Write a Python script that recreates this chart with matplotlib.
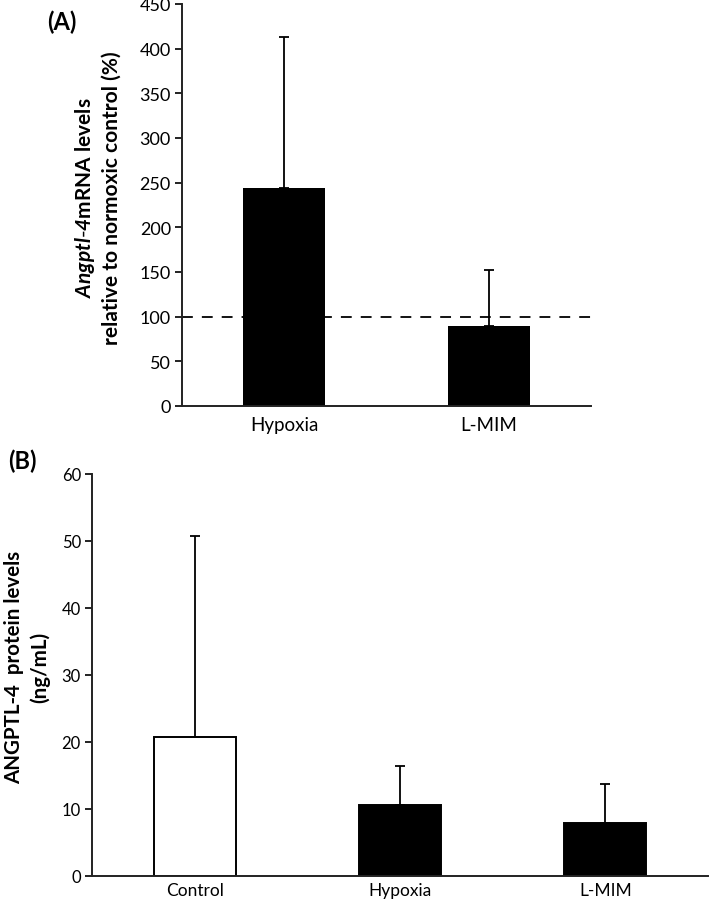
import matplotlib.pyplot as plt

plt.rcParams['font.family'] = ['Lato', 'DejaVu Sans']
plt.rcParams['mathtext.fontset'] = 'custom'
plt.rcParams['mathtext.bfit'] = 'Lato:italic:bold'
plt.rcParams['mathtext.it'] = 'Lato:italic'
plt.rcParams['mathtext.bf'] = 'Lato:bold'
plt.rcParams['mathtext.rm'] = 'Lato'

# panel A data
a_groups = ['Hypoxia', 'L-MIM']
a_means = [244, 89.5]
a_errs = [169, 62.5]
a_ref = 100

# panel B data
b_groups = ['Control', 'Hypoxia', 'L-MIM']
b_means = [20.7, 10.6, 7.9]
b_errs = [30.0, 5.8, 5.8]
b_colors = ['white', 'black', 'black']

fig = plt.figure(figsize=(7.09, 9.04), dpi=100)

def style(ax, fs_y, fs_x, xpad):
    for s in ['top', 'right']:
        ax.spines[s].set_visible(False)
    for s in ['left', 'bottom']:
        ax.spines[s].set_linewidth(1.4)
        ax.spines[s].set_color('#222222')
    ax.tick_params(axis='y', direction='out', length=5, width=1.4,
                   labelsize=fs_y, pad=3, color='#222222')
    ax.tick_params(axis='x', length=0, labelsize=fs_x, pad=xpad)

# ---- (A)
axA = fig.add_axes([0.2567, 0.5498, 0.5769, 0.4447])
xa = list(range(len(a_groups)))
axA.axhline(a_ref, color='black', lw=1.3, dashes=(6, 5), zorder=1)
axA.bar(xa, a_means, width=0.4, color='black', zorder=2)
axA.errorbar(xa, a_means, yerr=[[0] * len(a_errs), a_errs], fmt='none',
             ecolor='black', elinewidth=1.3, capsize=3.5, capthick=1.3, zorder=3)
axA.set_xlim(-0.5, 1.5)
axA.set_ylim(0, 450)
axA.set_yticks(range(0, 451, 50))
axA.set_xticks(xa)
axA.set_xticklabels(a_groups)
style(axA, 13, 13.5, 7)
axA.set_ylabel(r'$\mathbfit{Angptl}$' + r'$\mathbfit{\text{-}4}$' + 'mRNA levels\nrelative to normoxic control (%)',
               fontsize=15, fontweight='bold', linespacing=1.3)
axA.yaxis.set_label_coords(-0.147, 0.52)
fig.text(0.066, 0.975, '(A)', fontsize=17, fontweight='bold', va='center')

# ---- (B)
axB = fig.add_axes([0.1298, 0.0299, 0.8688, 0.4447])
xb = list(range(len(b_groups)))
axB.bar(xb, b_means, width=0.4, color=b_colors, edgecolor='black', linewidth=1.4, zorder=2)
axB.errorbar(xb, b_means, yerr=[[0] * len(b_errs), b_errs], fmt='none',
             ecolor='black', elinewidth=1.3, capsize=3.5, capthick=1.3, zorder=3)
axB.set_xlim(-0.5, 2.5)
axB.set_ylim(0, 60)
axB.set_yticks(range(0, 61, 10))
axB.set_xticks(xb)
axB.set_xticklabels(b_groups)
style(axB, 12, 12.5, 4.5)
axB.set_ylabel('ANGPTL-4  protein levels\n(ng/mL)', fontsize=14.8,
               fontweight='bold', linespacing=1.35)
axB.yaxis.set_label_coords(-0.068, 0.52)
fig.text(0.011, 0.490, '(B)', fontsize=17, fontweight='bold', va='center')

fig.savefig('out.png', dpi=100)
